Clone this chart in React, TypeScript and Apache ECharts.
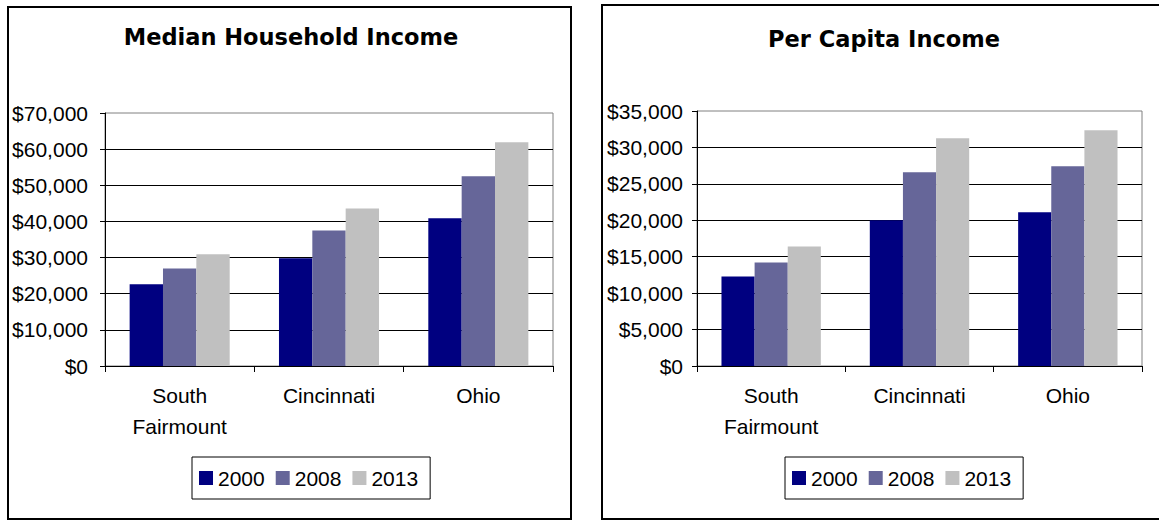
import React, { useEffect, useRef } from "react";
import * as echarts from "echarts";

const categories = ["South\nFairmount", "Cincinnati", "Ohio"];
const years = ["2000", "2008", "2013"];

const median2000 = [22600, 29800, 40900];
const median2008 = [27000, 37500, 52500];
const median2013 = [30900, 43600, 61900];

const perCapita2000 = [12300, 20000, 21100];
const perCapita2008 = [14200, 26600, 27400];
const perCapita2013 = [16400, 31250, 32350];

const medianTicks = { max: 70000, interval: 10000 };
const perCapitaTicks = { max: 35000, interval: 5000 };

const colors = ["#000080", "#666699", "#C0C0C0"];

export default function App() {
  const ref = useRef<HTMLDivElement>(null);

  useEffect(() => {
    const chart = echarts.init(ref.current!, null, { renderer: "svg" });
    const money = (v: number) => "$" + v.toLocaleString("en-US");
    const font = { fontFamily: "Liberation Sans", fontSize: 21, color: "#000" };

    const grids = [
      { left: 105, top: 113, width: 448, height: 253 },
      { left: 697, top: 111, width: 445, height: 255 },
    ];

    const xAxes = grids.map((_, i) => ({
      type: "category",
      gridIndex: i,
      data: categories,
      axisLine: { show: true, lineStyle: { color: "#000", width: 1 } },
      axisTick: { show: true, length: 6, lineStyle: { color: "#000" } },
      axisLabel: { ...font, margin: 14, lineHeight: 31, interval: 0 },
      splitLine: { show: false },
    }));

    const yAxes = [medianTicks, perCapitaTicks].map((t, i) => ({
      type: "value",
      gridIndex: i,
      min: 0,
      max: t.max,
      interval: t.interval,
      axisLine: { show: true, lineStyle: { color: "#000", width: 1 } },
      axisTick: { show: true, length: 5, lineStyle: { color: "#000" } },
      axisLabel: { ...font, margin: i === 0 ? 17 : 14, formatter: money },
      splitLine: { show: true, showMaxLine: false, lineStyle: { color: "#000", width: 1 } },
    }));

    const sets = [
      [median2000, median2008, median2013],
      [perCapita2000, perCapita2008, perCapita2013],
    ];

    const series: any[] = [];
    sets.forEach((set, gi) => {
      set.forEach((data, si) => {
        series.push({
          type: "bar",
          name: years[si],
          xAxisIndex: gi,
          yAxisIndex: gi,
          data,
          itemStyle: { color: colors[si] },
          barGap: "0%",
          barCategoryGap: "33%",
        });
      });
    });

    const legendBase = {
      data: years,
      orient: "horizontal",
      top: 457,
      itemWidth: 14,
      itemHeight: 14,
      itemGap: 11,
      icon: "rect",
      borderColor: "#000",
      borderWidth: 1,
      padding: [9, 12, 9, 7],
      textStyle: { ...font, lineHeight: 24 },
    };

    chart.setOption({
      animation: false,
      backgroundColor: "#fff",
      grid: grids.map((g) => ({ ...g, show: true, borderColor: "#808080", borderWidth: 1, backgroundColor: "transparent" })),
      xAxis: xAxes,
      yAxis: yAxes,
      legend: [
        { ...legendBase, left: 192 },
        { ...legendBase, left: 785 },
      ],
      series,
      graphic: [
        {
          type: "rect",
          shape: { x: 8, y: 7, width: 563, height: 512 },
          style: { fill: "none", stroke: "#000", lineWidth: 2 },
          z: -1,
        },
        {
          type: "rect",
          shape: { x: 602, y: 5, width: 600, height: 514 },
          style: { fill: "none", stroke: "#000", lineWidth: 2 },
          z: -1,
        },
        {
          type: "text",
          x: 291,
          y: 37,
          style: {
            text: "Median Household Income",
            textAlign: "center",
            textVerticalAlign: "middle",
            fontFamily: "DejaVu Sans",
            fontWeight: "bold",
            fontSize: 22.5,
            fill: "#000",
          },
        },
        {
          type: "text",
          x: 884,
          y: 39,
          style: {
            text: "Per Capita Income",
            textAlign: "center",
            textVerticalAlign: "middle",
            fontFamily: "DejaVu Sans",
            fontWeight: "bold",
            fontSize: 22.5,
            fill: "#000",
          },
        },
      ],
    });

    return () => chart.dispose();
  }, []);

  return (
    <div
      ref={ref}
      style={{ position: "absolute", left: 0, top: 0, width: 1159, height: 521, background: "#fff" }}
    />
  );
}
